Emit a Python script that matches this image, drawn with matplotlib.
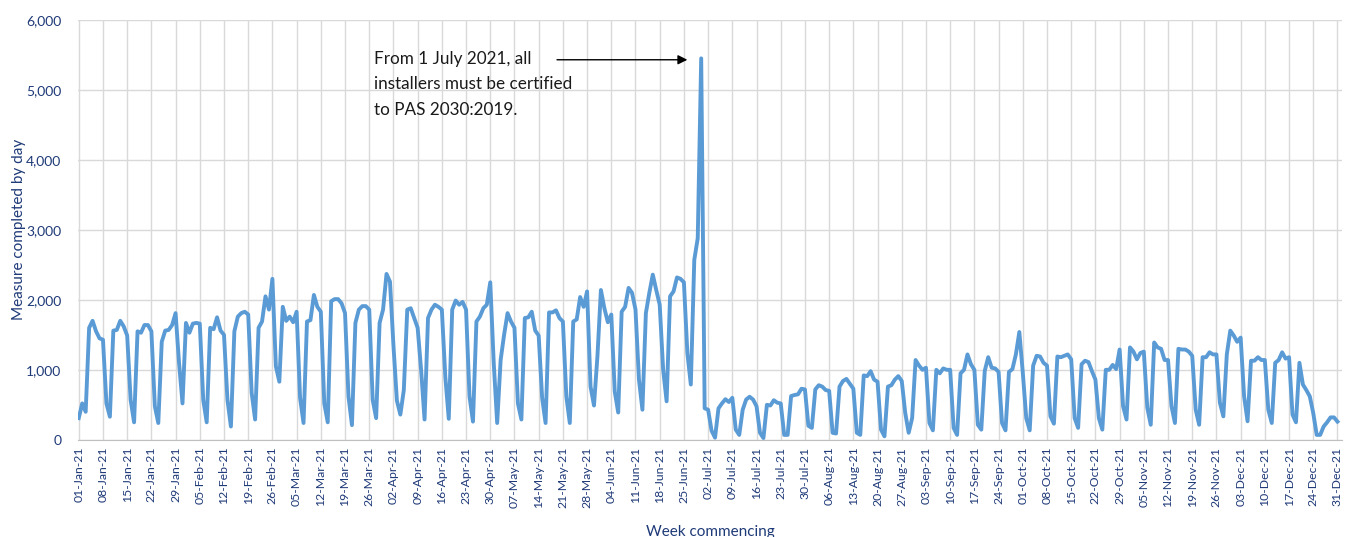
import numpy as np
import pandas as pd
import matplotlib
matplotlib.use("Agg")
import matplotlib.pyplot as plt
from matplotlib.ticker import FuncFormatter

plt.rcParams["font.family"] = ["Lato", "DejaVu Sans"]

# ── Daily values (measures completed) ─────────────────────────────────
jan = [310, 520, 400,
       1600, 1700, 1550, 1450, 1430, 520, 330,
       1560, 1570, 1700, 1620, 1490, 570, 250,
       1550, 1530, 1640, 1640, 1550, 480, 240,
       1400, 1560, 1570, 1640, 1810, 1100, 520]
feb = [1670, 1530, 1660, 1670, 1660, 570, 250,
       1600, 1580, 1750, 1560, 1500, 570, 190,
       1550, 1760, 1810, 1830, 1790, 670, 290,
       1600, 1690, 2050, 1860, 2300, 1050, 830]
mar = [1900, 1700, 1760, 1680, 1830, 600, 240,
       1690, 1710, 2070, 1900, 1830, 520, 250,
       1980, 2010, 2010, 1950, 1810, 620, 210,
       1670, 1860, 1910, 1910, 1860, 570, 310,
       1670, 1860, 2370]
apr = [2260, 1350, 560, 360,
       710, 1860, 1880, 1740, 1600, 1000, 290,
       1740, 1860, 1930, 1900, 1860, 900, 300,
       1860, 1990, 1930, 1970, 1860, 620, 260,
       1690, 1760, 1880, 1930, 2250]
may = [1100, 240,
       1140, 1500, 1810, 1690, 1600, 520, 290,
       1740, 1750, 1830, 1560, 1490, 600, 240,
       1820, 1820, 1850, 1740, 1690, 620, 240,
       1690, 1720, 2040, 1900, 2120, 760, 490,
       1200]
jun = [2140, 1880, 1680, 1790, 690, 390,
       1830, 1900, 2170, 2100, 1860, 860, 430,
       1810, 2100, 2360, 2140, 1930, 1000, 550,
       2050, 2120, 2320, 2300, 2250, 1240, 790,
       2570, 2880, 5450]
jul = [450, 430, 130, 30,
       450, 520, 580, 540, 600, 145, 70,
       430, 575, 615, 575, 480, 100, 25,
       500, 490, 565, 530, 520, 70, 70,
       625, 640, 650, 730, 720, 200]
aug = [170,
       720, 780, 760, 710, 700, 100, 90,
       760, 840, 870, 800, 730, 100, 70,
       920, 910, 980, 860, 830, 145, 50,
       760, 780, 860, 910, 840, 385, 100,
       310, 1140]
sep = [1060, 1000, 1030, 240, 135,
       1000, 950, 1020, 1000, 1000, 170, 70,
       950, 1000, 1220, 1080, 1000, 215, 145,
       985, 1180, 1030, 1020, 970, 240, 135,
       970, 1010, 1220, 1540]
oct_ = [960, 310, 135,
        1060, 1200, 1190, 1100, 1060, 335, 230,
        1190, 1180, 1200, 1220, 1150, 310, 170,
        1080, 1130, 1110, 980, 860, 310, 145,
        1000, 1000, 1070, 1010, 1290, 480, 290]
nov = [1320, 1260, 1150, 1240, 1260, 460, 215,
       1390, 1320, 1300, 1140, 1140, 480, 240,
       1300, 1290, 1290, 1260, 1200, 430, 215,
       1180, 1180, 1250, 1220, 1220, 530, 335,
       1220, 1560]
dec = [1490, 1400, 1460, 620, 265,
       1130, 1130, 1180, 1140, 1140, 430, 240,
       1100, 1140, 1250, 1160, 1180, 360, 250,
       1100, 790, 710, 620, 380, 70, 70,
       190, 250, 320, 320, 260]

values = np.array(jan + feb + mar + apr + may + jun + jul + aug + sep + oct_ + nov + dec)
dates = pd.date_range("2021-01-01", "2021-12-31", freq="D")
days = np.arange(len(dates))

week_starts = pd.date_range("2021-01-01", "2021-12-31", freq="7D")
tick_pos = [(d - dates[0]).days for d in week_starts]
tick_labels = [d.strftime("%d-%b-%y") for d in week_starts]

note = "From 1 July 2021, all\ninstallers must be certified\nto PAS 2030:2019."

# ── Plot ──────────────────────────────────────────────────────────────
navy = "#1f3a78"
grid = "#d9d9d9"

fig = plt.figure(figsize=(13.46, 5.37), dpi=100)
ax = fig.add_axes([0.058, 0.181, 0.939, 0.782])

ax.plot(days, values, color="#5b9bd5", linewidth=2.8, solid_joinstyle="round")

ax.set_xlim(-0.2, 365.3)
ax.set_ylim(0, 6000)
ax.set_yticks(range(0, 6001, 1000))
ax.yaxis.set_major_formatter(FuncFormatter(lambda v, p: f"{int(v):,}"))
ax.set_xticks(tick_pos)
ax.set_xticklabels(tick_labels, rotation=90, fontsize=8.8, color=navy)
ax.tick_params(axis="y", labelsize=10, colors=navy, length=0, pad=12)
ax.tick_params(axis="x", length=0, pad=5)

ax.grid(True, color=grid, linewidth=1)
ax.set_axisbelow(True)
for s in ["top", "right", "left"]:
    ax.spines[s].set_visible(False)
ax.spines["bottom"].set_color("#bfbfbf")

ax.set_ylabel("Measure completed by day", fontsize=11, color=navy, labelpad=0)
ax.set_xlabel("Week commencing", fontsize=11, color=navy, labelpad=12)

# arrow pointing at the end-of-June spike
peak_day = int(np.argmax(values))
peak_val = values[peak_day]
ax.annotate("", xy=(peak_day - 3.2, peak_val - 20), xytext=(peak_day - 42.5, peak_val - 20),
            arrowprops=dict(arrowstyle="-|>", color="black", lw=1, mutation_scale=14))
ax.text(85.5, 5560, note, fontsize=12.3, color="#1a1a1a", va="top", ha="left",
        linespacing=1.75)

plt.savefig("out.png", dpi=100)
